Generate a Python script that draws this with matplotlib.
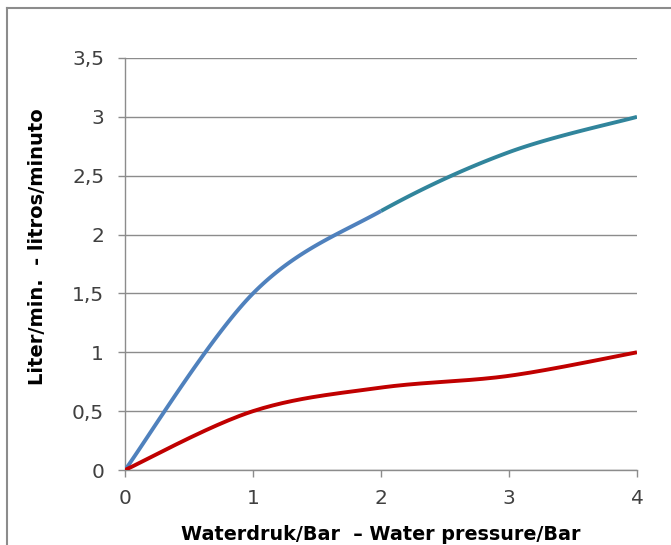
import numpy as np
import matplotlib
matplotlib.use('Agg')
import matplotlib.pyplot as plt
from matplotlib.lines import Line2D
from matplotlib.ticker import FuncFormatter

plt.rcParams['font.family'] = ['DejaVu Sans']

# Water pressure (bar) and flow (litre/min)
pressure = [0, 1, 2, 3, 4]
flow_high = [0, 1.5, 2.2, 2.7, 3.0]
flow_low = [0, 0.5, 0.7, 0.8, 1.0]
y_ticks = [0, 0.5, 1, 1.5, 2, 2.5, 3, 3.5]


def smooth(xs, ys, n=40):
    # Excel-style smoothed line: cubic bezier with 1/6 tangents
    p = np.column_stack([xs, ys]).astype(float)
    p = np.vstack([p[0], p, p[-1]])
    out = []
    t = np.linspace(0, 1, n)[:, None]
    for i in range(1, len(p) - 2):
        p0, p1, p2, p3 = p[i - 1], p[i], p[i + 1], p[i + 2]
        c1 = p1 + (p2 - p0) / 6
        c2 = p2 - (p3 - p1) / 6
        seg = ((1 - t) ** 3) * p1 + 3 * ((1 - t) ** 2) * t * c1 + 3 * (1 - t) * t ** 2 * c2 + t ** 3 * p2
        out.append(seg)
    out = np.vstack(out)
    return out[:, 0], out[:, 1]


fig = plt.figure(figsize=(6.71, 5.45), dpi=100)
ax = fig.add_axes([0.1863, 0.1376, 0.763, 0.756])

hx, hy = smooth(pressure, flow_high)
lx, ly = smooth(pressure, flow_low)
half = len(hx) // 2
ax.plot(hx[:half + 1], hy[:half + 1], color='#4F81BD', lw=2.8, solid_capstyle='butt', zorder=3)
ax.plot(hx[half:], hy[half:], color='#31859C', lw=2.8, solid_capstyle='butt', zorder=3)
ax.plot(lx, ly, color='#C00000', lw=2.8, solid_capstyle='butt', zorder=3)

ax.set_xlim(0, 4)
ax.set_ylim(0, 3.5)
ax.set_xticks(pressure)
ax.set_yticks(y_ticks)
ax.yaxis.set_major_formatter(FuncFormatter(lambda v, pos: ('%g' % v).replace('.', ',')))
ax.grid(axis='y', color='#8C8C8C', lw=1)
ax.set_axisbelow(True)
for s in ['top', 'right']:
    ax.spines[s].set_visible(False)
for s in ['left', 'bottom']:
    ax.spines[s].set_color('#8C8C8C')
    ax.spines[s].set_linewidth(1)
ax.tick_params(axis='both', direction='out', length=5, width=1, color='#8C8C8C',
               labelsize=14.5, labelcolor='#404040')
ax.tick_params(axis='y', pad=10)
ax.tick_params(axis='x', pad=9)

ax.set_xlabel('Waterdruk/Bar  \u2013 Water pressure/Bar', fontsize=13.8, fontweight='bold', labelpad=12)
ax.set_ylabel('Liter/min.  - litros/minuto', fontsize=14, fontweight='bold', labelpad=18)
ax.yaxis.label.set_y(0.541)

# chart frame edges visible in the crop
fig.add_artist(Line2D([7 / 671, 7 / 671], [0, 1 - 8 / 545], color='#8C8C8C', lw=1.5))
fig.add_artist(Line2D([7 / 671, 1], [1 - 8 / 545, 1 - 8 / 545], color='#8C8C8C', lw=1.5))

fig.savefig('out.png', dpi=100)
